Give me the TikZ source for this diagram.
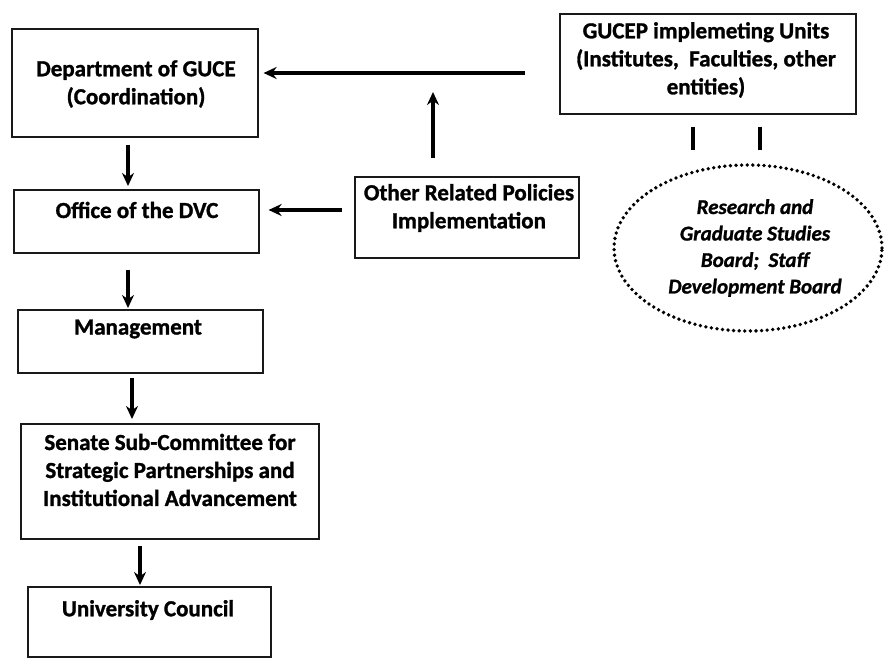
\documentclass[tikz,border=0pt]{standalone}
\usepackage{fontspec}
\setmainfont{Carlito}[BoldFeatures={FakeBold=1.2},BoldItalicFeatures={FakeBold=1.2}]
\usetikzlibrary{arrows.meta,shapes.geometric}
\begin{document}
\begin{tikzpicture}[x=1pt,y=-1pt,
 box/.style={draw=black!90, line width=1.6pt, rectangle, inner sep=0pt, anchor=north west},
 txt/.style={font=\bfseries\fontsize{23}{28}\selectfont, align=center, inner sep=0pt},
 itxt/.style={font=\bfseries\itshape\fontsize{21}{26.5}\selectfont, align=center, inner sep=0pt},
 arr/.style={line width=3.2pt, -{Stealth[length=13pt,width=12pt]}},
 tickline/.style={line width=3.2pt},
 dotline/.style={draw, line width=3.8pt, line cap=round, dash pattern=on 0pt off 5.6pt, ellipse, inner sep=0pt}]
\useasboundingbox (0,0) rectangle (884,659);
% boxes
\node[box, minimum width=246pt, minimum height=108pt] (dept) at (11,28) {};
\node[box, minimum width=245pt, minimum height=63pt] (dvc) at (13,189) {};
\node[box, minimum width=245pt, minimum height=63pt] (mgmt) at (17,309) {};
\node[box, minimum width=298pt, minimum height=115pt] (senate) at (20,423) {};
\node[box, minimum width=243pt, minimum height=70pt] (council) at (27,586) {};
\node[box, minimum width=296pt, minimum height=100pt] (gucep) at (559,13) {};
\node[box, minimum width=224pt, minimum height=81pt] (other) at (354,176) {};
\node[dotline, minimum width=268pt, minimum height=166pt] (rgsb) at (748,248) {};
% texts
\node[txt] (tdept) at (136,84) {Department of GUCE\\(Coordination)};
\node[txt] (tdvc) at (137,210) {Office of the DVC};
\node[txt] (tmgmt) at (138,329) {Management};
\node[txt] (tsenate) at (170,470) {Senate Sub-Committee for\\Strategic Partnerships and\\Institutional Advancement};
\node[txt] (tcouncil) at (148,610) {University Council};
\node[txt] (tgucep) at (706,60) {GUCEP implemeting Units\\(Institutes,\ \ Faculties, other\\entities)};
\node[txt] (tother) at (469,208) {Other Related Policies\\Implementation};
\node[itxt] (trgsb) at (755,248) {Research and\\Graduate Studies\\Board;\ \ Staff\\Development Board};
% connectors
\coordinate (upend) at (433,92);
\draw[arr, shorten <=34pt, shorten >=5pt] (gucep.west |- 0,73) -- (dept.east |- 0,73);
\draw[arr, shorten <=18pt] (433,0 |- other.north) -- (upend);
\draw[arr, shorten <=12pt, shorten >=9pt] (other.west |- 0,210) -- (dvc.east |- 0,210);
\draw[arr, shorten <=7pt, shorten >=3pt] (128,0 |- dept.south) -- (128,0 |- dvc.north);
\draw[arr, shorten <=16pt, shorten >=1pt] (128,0 |- dvc.south) -- (128,0 |- mgmt.north);
\draw[arr, shorten <=4pt, shorten >=4pt] (132,0 |- mgmt.south) -- (132,0 |- senate.north);
\draw[arr, shorten <=6pt, shorten >=1pt] (140,0 |- senate.south) -- (140,0 |- council.north);
\draw[tickline, shorten <=12pt, shorten >=13pt] (693,0 |- gucep.south) -- (693,0 |- rgsb.north);
\draw[tickline, shorten <=12pt, shorten >=13pt] (760,0 |- gucep.south) -- (760,0 |- rgsb.north);
\end{tikzpicture}
\end{document}
